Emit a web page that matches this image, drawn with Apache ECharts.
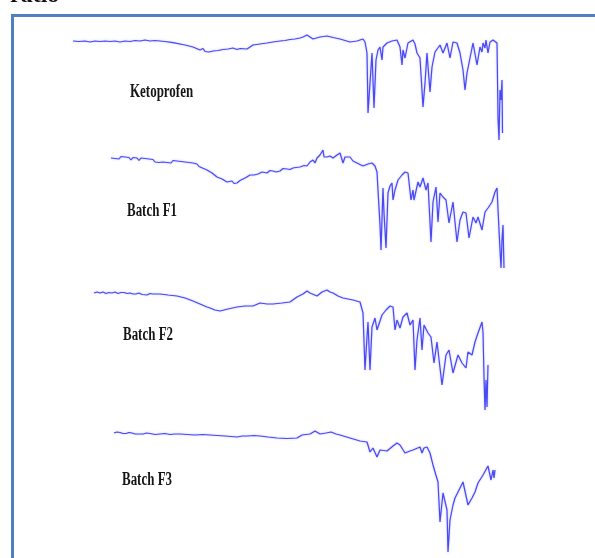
<!DOCTYPE html>
<html>
<head>
<meta charset="utf-8">
<title>FTIR spectra</title>
<script src="https://cdn.jsdelivr.net/npm/echarts@6/dist/echarts.min.js"></script>
<style>
  html, body { margin: 0; padding: 0; background: #fff; }
  #chart { width: 595px; height: 558px; }
</style>
</head>
<body>
<div id="chart"></div>
<script>
// Spectrum names, drawn as labels beside each trace
const sampleNames = ['Ketoprofen', 'Batch F1', 'Batch F2', 'Batch F3'];

// Each trace: [wavenumber (cm-1), transmittance (arb. units)]
const ketoprofen = [
  [4000,104],[3952,103.5],[3904,104],[3864,103],[3824,104],[3784,103.5],[3744,104],[3704,103.5],
  [3664,104],[3624,103],[3584,104],[3544,103.5],[3504,104.5],[3464,104],[3424,105],[3384,104],
  [3344,104.5],[3304,104],[3264,103.5],[3200,102.3],[3104,100],[3040,98],[2984,95],[2960,96.5],
  [2944,93.5],[2928,95],[2912,93],[2880,94],[2840,94.5],[2800,95.5],[2760,96],[2720,97],[2688,95.5],
  [2664,96.5],[2608,96],[2584,98],[2560,100],[2504,101],[2448,102],[2400,103],
  [2344,104],[2304,104.5],[2264,105.5],[2224,106],[2184,107],[2160,108],[2128,110],[2104,108],[2080,106],[2024,108],
  [1968,109],[1920,107.5],[1864,106],[1784,103],[1728,104],[1680,106],[1664,103],[1648,92],
  [1640,32],[1624,62],[1608,92],[1592,37],[1576,85],[1560,95],[1544,98],[1528,85],[1520,98],
  [1488,102],[1448,104],[1408,105],[1384,98],[1368,80],[1360,95],[1344,87],[1320,102],[1280,105],
  [1264,101],[1248,92],[1224,87],[1200,38],[1184,62],[1168,92],[1160,93],[1144,53],[1128,78],
  [1104,93],[1064,100],[1040,92],[1008,102],[984,87],[960,103],[928,102],[904,92],[880,75],
  [864,55],[848,72],[824,87],[800,102],[768,80],[744,98],[728,93],[720,102],[704,97],[696,105],
  [680,92],[664,103],[640,105],[608,102],[600,28],[592,5],[584,55],[576,45],[568,65],[564,12]
];

const batchF1 = [
  [4000,117],[3984,119],[3968,116.5],[3952,118],[3936,116],[3920,118.5],[3904,116.5],[3888,118],
  [3872,116],[3856,117.5],[3840,115],[3824,117.5],[3808,115.5],[3792,117],[3776,114.5],[3760,117],
  [3744,115],[3728,116.5],[3712,114.5],[3696,116],[3680,114],[3664,115.5],[3648,113],[3632,115],
  [3616,112.5],[3600,114.5],[3584,113],[3568,115],[3552,112.5],[3536,114],[3520,112],[3504,114.5],
  [3488,112.5],[3472,114],[3456,112],[3440,113.5],[3424,111.5],[3408,113],[3392,111],[3376,112.5],
  [3360,111],[3344,112],[3328,110],[3312,111],[3296,108.5],[3288,109.5],
  [3232,105],[3216,104.5],[3192,102],[3176,100.5],[3152,98],[3136,98.5],[3112,96],[3096,95],[3072,93],
  [3056,94.5],[3032,94],[3016,91.5],[2992,92],[2968,94.5],[2944,96],[2920,97.5],[2888,100],[2856,100],
  [2824,101],[2792,103],[2752,102],[2728,104.5],[2704,104],[2680,103],[2648,104],[2624,106.5],[2592,106],
  [2568,105.5],[2544,107],[2520,107.5],[2488,108],[2456,109.5],[2432,109],[2408,113],[2384,115],[2368,112],
  [2352,117],[2336,116],[2328,120],[2304,125],[2296,118],[2288,120],
  [2272,118],[2248,119],[2224,117],[2192,120],[2168,122],[2144,112],[2128,118],[2112,120],[2088,118],
  [2064,114],[2032,112],[1984,109],[1944,111],[1912,112],[1888,109],[1872,103],[1864,85],[1848,50],
  [1840,25],[1824,87],[1816,62],[1800,27],[1784,82],[1768,89],[1752,92],[1744,75],[1728,85],
  [1704,95],[1672,100],[1648,103],[1624,102],[1600,75],[1584,85],[1576,75],[1544,93],[1528,88],
  [1504,97],[1480,85],[1464,92],[1440,33],[1424,73],[1400,88],[1384,53],[1368,82],[1344,78],
  [1320,75],[1296,52],[1264,73],[1232,33],[1208,55],[1184,63],[1160,62],[1136,37],[1104,58],
  [1080,52],[1064,58],[1032,45],[1008,63],[984,67],[968,65],[952,73],[928,83],[912,87],[896,45],
  [888,25],[880,7],[872,35],[864,50],[856,7]
];

const batchF2 = [
  [4000,122],[3976,123],[3952,122],[3928,123],[3904,121.5],[3880,122.5],[3856,122],[3832,123],
  [3808,121.5],[3784,122.5],[3760,122.5],[3736,121.5],[3712,122],[3688,121],[3664,121],[3640,122],
  [3616,120.5],[3576,120],[3552,121.5],[3528,121],[3472,121],[3408,120],[3336,119],[3272,117],[3208,114],
  [3152,111],[3096,108],[3072,107],[3032,105],[2992,104],[2928,106],[2856,108],[2792,109],
  [2728,109],[2672,112],[2616,111],[2568,111],[2496,112],[2432,113],[2376,118],[2328,121],
  [2296,124],[2288,125],[2272,122],[2256,120],[2216,119],[2176,123],[2136,125],[2112,123],
  [2088,122],[2048,119],[2008,117],[1968,116],[1928,115],[1872,113],[1848,102],[1832,45],
  [1816,78],[1808,93],[1792,45],[1776,88],[1752,97],[1736,85],[1696,100],[1664,105],[1632,109],
  [1608,108],[1592,85],[1576,95],[1552,87],[1528,98],[1496,102],[1472,90],[1448,95],[1432,45],
  [1416,75],[1392,97],[1376,65],[1360,90],[1328,82],[1304,78],[1280,52],[1256,73],[1216,30],
  [1184,60],[1160,65],[1128,42],[1088,60],[1056,52],[1024,47],[1008,63],[976,60],[952,73],
  [928,82],[896,93],[888,83],[880,38],[872,5],[864,35],[856,8],[848,50]
];

const batchF3 = [
  [4000,125],[3976,126],[3952,125.5],[3928,124.5],[3904,124.5],[3880,125.5],[3856,125],[3832,124],
  [3816,125],[3792,124],[3768,124],[3740,125],[3712,124.5],[3672,123.5],[3632,124],[3592,124.5],
  [3552,123.5],[3512,124],[3472,124],[3412,123.5],[3352,123],[3292,123.5],[3232,123],[3172,122.5],
  [3112,122],[3064,121.5],[3016,121],[2972,122],[2928,122],[2880,122.5],[2832,122],
  [2768,121],[2696,120],[2616,119.5],[2536,120],[2496,123],[2432,124],[2392,127],[2352,124],
  [2304,125],[2264,126],[2224,124],[2192,123],[2112,120],[2032,117],[1976,116],[1952,106],
  [1928,110],[1896,101],[1872,108],[1816,107],[1768,112],[1736,115],[1712,113],[1672,105],
  [1632,107],[1608,108],[1552,111],[1536,105],[1520,110],[1496,111],[1472,105],[1448,93],
  [1432,86],[1408,76],[1392,36],[1368,65],[1352,66],[1336,48],[1328,6],[1312,38],[1288,53],
  [1272,60],[1248,66],[1208,76],[1168,53],[1136,60],[1112,66],[1088,75],[1048,83],[1008,92],
  [984,78],[968,88],[960,80],[952,88]
];

const traces = [ketoprofen, batchF1, batchF2, batchF3];

// Scan window (cm-1) of each recorded spectrum
const scanLow = [560, 850, 840, 944];
const scanHigh = 4000;
// Transmittance range shown in each panel
const tMax = [115, 130, 135, 133];

// Panel placement on the page
const panels = [
  { left: 73,  top: 30,  height: 115 },
  { left: 111, top: 145, height: 130 },
  { left: 94,  top: 280, height: 135 },
  { left: 114, top: 425, height: 133 }
];
const pxPerWavenumber = 1 / 8;

const labelPos = [
  { x: 130, y: 83 },
  { x: 127, y: 202 },
  { x: 123, y: 326 },
  { x: 122, y: 471 }
];

const lineColor = '#4848f4';
const frameColor = '#4f81bd';

const chart = echarts.init(document.getElementById('chart'), null, { renderer: 'canvas' });

const grids = panels.map((p, i) => ({
  left: p.left,
  top: p.top,
  width: (scanHigh - scanLow[i]) * pxPerWavenumber,
  height: p.height,
  containLabel: false
}));

const xAxes = panels.map((p, i) => ({
  type: 'value', gridIndex: i, inverse: true,
  min: scanLow[i], max: scanHigh, show: false
}));

const yAxes = panels.map((p, i) => ({
  type: 'value', gridIndex: i, min: 0, max: tMax[i], show: false
}));

const series = traces.map((d, i) => ({
  type: 'line',
  name: sampleNames[i],
  xAxisIndex: i, yAxisIndex: i,
  data: d,
  showSymbol: false,
  smooth: false,
  silent: true,
  animation: false,
  lineStyle: {
    color: lineColor, width: 1.2,
    shadowColor: 'rgba(90,90,255,0.45)', shadowBlur: 2
  }
}));

const graphics = [
  // Frame: top and left rules
  { type: 'rect', shape: { x: 11, y: 14, width: 584, height: 3 }, style: { fill: frameColor } },
  { type: 'rect', shape: { x: 11, y: 14, width: 3, height: 544 }, style: { fill: frameColor } },
  // Heading text running off the top edge
  { type: 'text', x: 10, y: 8,
    style: { text: 'ratio', font: 'bold 24px "Liberation Serif", serif', fill: '#111', verticalAlign: 'bottom' } }
];
sampleNames.forEach((name, i) => {
  graphics.push({
    type: 'text', x: labelPos[i].x, y: labelPos[i].y, scaleX: 0.72,
    style: { text: name, font: 'bold 18px "Liberation Serif", serif', fill: '#161616', verticalAlign: 'top' }
  });
});

chart.setOption({
  backgroundColor: '#ffffff',
  animation: false,
  grid: grids,
  xAxis: xAxes,
  yAxis: yAxes,
  series: series,
  graphic: graphics
});
</script>
</body>
</html>
